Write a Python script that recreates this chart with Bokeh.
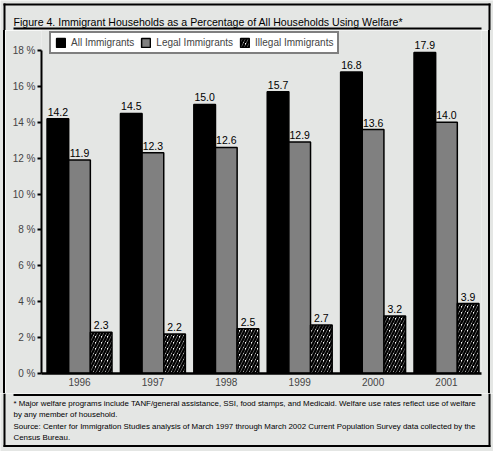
from bokeh.plotting import figure
from bokeh.layouts import column, row
from bokeh.models import (Range1d, FixedTicker, Legend, LegendItem, Label,
                          BoxAnnotation, ColumnDataSource, Spacer)
from bokeh.transform import dodge
from bokeh.core.properties import value
from bokeh.embed import file_html
from bokeh.resources import INLINE

# ---- data ----
years = ["1996", "1997", "1998", "1999", "2000", "2001"]
all_immigrants = [14.2, 14.5, 15.0, 15.7, 16.8, 17.9]
legal_immigrants = [11.9, 12.3, 12.6, 12.9, 13.6, 14.0]
illegal_immigrants = [2.3, 2.2, 2.5, 2.7, 3.2, 3.9]
y_ticks = [0, 2, 4, 6, 8, 10, 12, 14, 16, 18]
series_names = ["All Immigrants", "Legal Immigrants", "Illegal Immigrants"]
title_text = "Figure 4. Immigrant Households as a Percentage of All Households Using Welfare*"
note_lines = [
    "* Major welfare programs include TANF/general assistance, SSI, food stamps, and Medicaid. Welfare use rates reflect use of welfare",
    "by any member of household.",
    "Source: Center for Immigration Studies analysis of March 1997 through March 2002 Current Population Survey data collected by the",
    "Census Bureau.",
]

FONT = "Liberation Sans"
W = 493
H_TOP, H_MID, H_BOT = 30, 363, 58
BG = "#e4e6e4"
BW = 0.295


def panel(h):
    f = figure(width=W, height=h, output_backend="svg", toolbar_location=None, title=None,
               x_range=Range1d(0, W), y_range=Range1d(h, 0),
               x_axis_type=None, y_axis_type=None, min_border=0,
               background_fill_color=BG, border_fill_color=BG, outline_line_color=None)
    f.grid.visible = False
    return f


def bar_line(f, l, r, t, b):
    f.add_layout(BoxAnnotation(left=l, right=r, top=t, bottom=b,
                               fill_color="black", fill_alpha=1, line_color=None))


# ---- top: title ----
top = panel(H_TOP)
bar_line(top, 3, 490, 3, 5)        # frame top
bar_line(top, 3, 5, 3, H_TOP)      # frame left
bar_line(top, 488, 490, 3, H_TOP)  # frame right
top.add_layout(Label(x=13, y=21, text=title_text, text_font=FONT,
                     text_font_size="10.6px", text_baseline="alphabetic", text_color="black"))
bar_line(top, 13, 481, 27, 29)     # rule under title

# ---- middle: chart ----
xs = list(range(len(years)))
src = ColumnDataSource(dict(
    x=xs, all=all_immigrants, legal=legal_immigrants, illegal=illegal_immigrants,
    all_t=[f"{v:.1f}" for v in all_immigrants],
    legal_t=[f"{v:.1f}" for v in legal_immigrants],
    illegal_t=[f"{v:.1f}" for v in illegal_immigrants],
))

p = figure(width=483, height=H_MID, output_backend="svg", toolbar_location=None, title=None,
           x_range=Range1d(-0.518, 5.477), y_range=Range1d(0, 19.12),
           min_border_left=36, min_border_right=7, min_border_top=0, min_border_bottom=20,
           background_fill_color=BG, border_fill_color=BG, outline_line_color=None)

r1 = p.vbar(x=dodge("x", -BW), top="all", width=BW, source=src,
            fill_color="black", line_color="black", line_width=1.5)
r2 = p.vbar(x=dodge("x", 0), top="legal", width=BW, source=src,
            fill_color="#808080", line_color="black", line_width=1.5)
r3 = p.vbar(x=dodge("x", BW), top="illegal", width=BW, source=src,
            fill_color="white", line_color="black", line_width=1.5,
            hatch_pattern="/", hatch_color="black", hatch_weight=2.4, hatch_scale=6)

for off, col in [(-BW, "all"), (0, "legal"), (BW, "illegal")]:
    p.text(x=dodge("x", off), y=col, text=col + "_t", source=src,
           text_align="center", text_baseline="bottom", y_offset=-3,
           text_font=value(FONT), text_font_size="10.5px", text_color="black")

p.grid.visible = False

ya = p.yaxis[0]
ya.ticker = FixedTicker(ticks=y_ticks)
ya.major_label_overrides = {t: f"{t} %" for t in y_ticks}
ya.bounds = (0, 18)
ya.axis_line_width = 2
ya.major_tick_line_width = 2
ya.major_tick_out = 4
ya.major_tick_in = 0
ya.minor_tick_line_color = None
ya.major_label_standoff = 2
ya.major_label_text_font = FONT
ya.major_label_text_font_size = "10px"

xa = p.xaxis[0]
xa.ticker = FixedTicker(ticks=xs)
xa.major_label_overrides = {i: y for i, y in enumerate(years)}
xa.major_tick_line_color = None
xa.major_tick_out = 0
xa.major_tick_in = 0
xa.minor_tick_line_color = None
xa.minor_tick_out = 0
xa.axis_line_width = 2.5
xa.major_label_standoff = 4
xa.major_label_text_font = FONT
xa.major_label_text_font_size = "10px"

legend = Legend(items=[LegendItem(label=series_names[0], renderers=[r1]),
                       LegendItem(label=series_names[1], renderers=[r2]),
                       LegendItem(label=series_names[2], renderers=[r3])],
                orientation="horizontal", location=(8, 319),
                glyph_width=11, glyph_height=11, label_height=11, label_standoff=5,
                spacing=6, padding=4, margin=0,
                border_line_color="black", border_line_width=2.5,
                background_fill_color="white", background_fill_alpha=1,
                label_text_font=FONT, label_text_font_size="10px")
p.add_layout(legend)

middle = row(Spacer(width=3, height=H_MID, styles={"background-color": BG}),
             Spacer(width=2, height=H_MID, styles={"background-color": "black"}),
             p,
             Spacer(width=2, height=H_MID, styles={"background-color": "black"}),
             Spacer(width=3, height=H_MID, styles={"background-color": BG}),
             spacing=0)

# ---- bottom: notes ----
bot = panel(H_BOT)
bar_line(bot, 13, 481, 0.5, 2.5)          # rule above notes
bar_line(bot, 3, 5, 0, 53.5)              # frame left
bar_line(bot, 488, 490, 0, 53.5)          # frame right
bar_line(bot, 3, 490, 51.5, 53.5)         # frame bottom
for yy, t in zip([10, 21, 32.5, 44], note_lines):
    bot.add_layout(Label(x=13, y=yy, text=t, text_font=FONT, text_font_size="7.9px",
                         text_baseline="middle", text_color="black"))

layout = column(top, middle, bot, spacing=0)

open("out.html", "w").write(file_html(layout, INLINE))
